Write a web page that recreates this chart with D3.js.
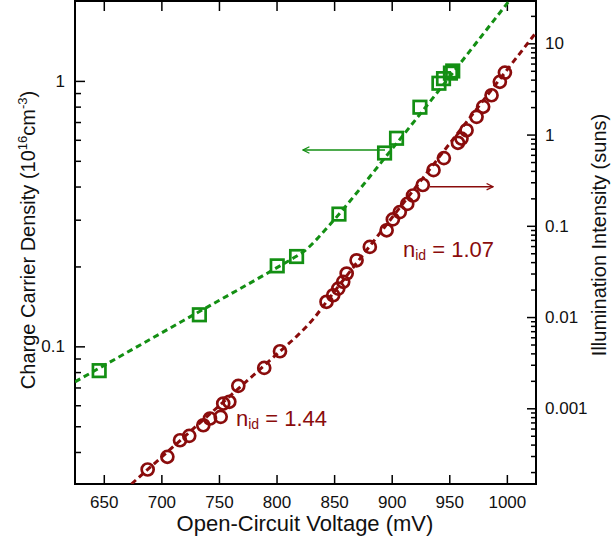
<!DOCTYPE html>
<html>
<head>
<meta charset="utf-8">
<script src="https://cdn.jsdelivr.net/npm/d3@7"></script>
<style>
  body { margin: 0; background: #fff; }
  svg { display: block; font-family: "Liberation Sans", Arial, sans-serif; }
</style>
</head>
<body>
<svg id="chart"></svg>
<script>
// carrier density (left axis) - green squares
var greenVoc = [646, 733, 800.6, 817.4, 854.2, 893.8, 904.2, 924.5, 941, 945, 951, 953]
var greenDensity = [0.081, 0.1315, 0.201, 0.218, 0.315, 0.535, 0.608, 0.796, 0.98, 1.02, 1.07, 1.09]

// illumination intensity (right axis) - red circles
var redVoc = [688.1, 705.2, 716.2, 724.2, 736.4, 742.2, 751.5, 753.7, 759, 766.8, 789.3, 803,
              843.4, 849.2, 853.6, 857.9, 860.9, 869.5, 881, 895.6, 901, 907, 913.5, 918.5,
              927, 936.3, 945.3, 957.5, 960.6, 965, 973.7, 979.4, 986.7, 993.9, 998.3]
var redSuns = [2.133e-4, 2.938e-4, 4.467e-4, 4.989e-4, 6.516e-4, 7.727e-4, 8.054e-4, 1.127e-3,
               1.178e-3, 1.762e-3, 2.773e-3, 4.217e-3, 0.01469, 0.01734, 0.02051, 0.02432,
               0.02999, 0.04188, 0.05875, 0.08933, 0.1175, 0.1413, 0.1738, 0.2148, 0.2799,
               0.4074, 0.5521, 0.8128, 0.9036, 1.114, 1.563, 2.014, 2.698, 3.784, 4.775]

// dashed fit curves
var greenFitVoc = [625, 720, 800, 815, 825, 835, 845, 900, 1003]
var greenFitDensity = [0.0735, 0.1257, 0.1975, 0.2155, 0.230, 0.2535, 0.283, 0.552, 2.03]
var redFitVoc = [674, 740, 803, 818, 832, 843.4, 920, 1000, 1025]
var redFitSuns = [1.48e-4, 8.2e-4, 4.21e-3, 6.24e-3, 9.55e-3, 0.01469, 0.2564, 5.09, 12.97]

// ticks
var xTicks = [650, 700, 750, 800, 850, 900, 950, 1000]
var leftMajor = [0.1, 1]
var leftMinor = [0.04, 0.05, 0.06, 0.07, 0.08, 0.09, 0.2, 0.3, 0.4, 0.5, 0.6, 0.7, 0.8, 0.9]
var rightMajor = [0.001, 0.01, 0.1, 1, 10]
var rightLabels = ["0.001", "0.01", "0.1", "1", "10"]

var dimensions = {
    width: 611,
    height: 545,
    margin: { top: 1, bottom: 61, left: 75, right: 75 }
}
var innerBottom = dimensions.height - dimensions.margin.bottom
var innerRight = dimensions.width - dimensions.margin.right

var green = "#138f13"
var red = "#8a0c0c"

var svg = d3.select("#chart")
            .attr("width", dimensions.width)
            .attr("height", dimensions.height)

var x = d3.scaleLinear().domain([625, 1025.3]).range([dimensions.margin.left, innerRight])
var yLeft = d3.scaleLog().domain([0.0303, 2.0]).range([innerBottom, dimensions.margin.top])
var yRight = d3.scaleLog().domain([1.48e-4, 29.1]).range([innerBottom, dimensions.margin.top])

// minor ticks on the right: 2..9 of every decade inside the domain
var rightMinor = []
for (var e = -4; e <= 1; e++) {
    for (var m = 2; m <= 9; m++) {
        var v = m * Math.pow(10, e)
        if (v > 1.5e-4 && v < 29) rightMinor.push(v)
    }
}

svg.append("clipPath").attr("id", "plotClip")
   .append("rect")
   .attr("x", dimensions.margin.left)
   .attr("y", dimensions.margin.top)
   .attr("width", innerRight - dimensions.margin.left)
   .attr("height", innerBottom - dimensions.margin.top)

// axes
function styleAxis(g) {
    g.select(".domain").remove()
    g.selectAll(".tick line").attr("stroke", "black").attr("stroke-width", 1.5)
    g.selectAll(".tick text").attr("fill", "#111").style("font-size", "17px")
       .style("font-family", "'Liberation Sans', Arial, sans-serif")
}

svg.append("g")
   .attr("transform", `translate(0,${innerBottom})`)
   .call(d3.axisBottom(x).tickValues(xTicks).tickSize(-9).tickPadding(12).tickFormat(d3.format("d")))
   .call(styleAxis)

svg.append("g")
   .attr("transform", `translate(0,${dimensions.margin.top})`)
   .call(d3.axisTop(x).tickValues(xTicks).tickSize(-10).tickFormat(""))
   .call(styleAxis)

svg.append("g")
   .attr("transform", `translate(${dimensions.margin.left},0)`)
   .call(d3.axisLeft(yLeft).tickValues(leftMajor).tickSize(-10).tickPadding(10).tickFormat(d => d === 1 ? "1" : "0.1"))
   .call(styleAxis)

svg.append("g")
   .attr("transform", `translate(${dimensions.margin.left},0)`)
   .call(d3.axisLeft(yLeft).tickValues(leftMinor).tickSize(-6).tickFormat(""))
   .call(styleAxis)

svg.append("g")
   .attr("transform", `translate(${innerRight},0)`)
   .call(d3.axisRight(yRight).tickValues(rightMajor).tickSize(-9).tickPadding(9)
           .tickFormat((d, i) => rightLabels[i]))
   .call(styleAxis)

svg.append("g")
   .attr("transform", `translate(${innerRight},0)`)
   .call(d3.axisRight(yRight).tickValues(rightMinor).tickSize(-5).tickFormat(""))
   .call(styleAxis)

// frame
svg.append("rect")
   .attr("x", dimensions.margin.left)
   .attr("y", dimensions.margin.top)
   .attr("width", innerRight - dimensions.margin.left)
   .attr("height", innerBottom - dimensions.margin.top)
   .attr("fill", "none")
   .attr("stroke", "black")
   .attr("stroke-width", 2)

// fit lines
var greenLine = d3.line()
                  .x((d, i) => x(greenFitVoc[i]))
                  .y(d => yLeft(d))
                  .curve(d3.curveMonotoneX)
var redLine = d3.line()
                .x((d, i) => x(redFitVoc[i]))
                .y(d => yRight(d))
                .curve(d3.curveMonotoneX)

var fits = svg.append("g").attr("clip-path", "url(#plotClip)")
fits.append("path")
    .attr("d", greenLine(greenFitDensity))
    .attr("fill", "none")
    .attr("stroke", green)
    .attr("stroke-width", 3)
    .attr("stroke-dasharray", "6,4")
fits.append("path")
    .attr("d", redLine(redFitSuns))
    .attr("fill", "none")
    .attr("stroke", red)
    .attr("stroke-width", 3)
    .attr("stroke-dasharray", "6,4")

// markers
var squareSize = 12.5
svg.append("g")
   .selectAll(".squares")
   .data(greenDensity)
   .enter()
   .append("rect")
   .attr("class", "squares")
   .attr("x", (d, i) => x(greenVoc[i]) - squareSize / 2)
   .attr("y", d => yLeft(d) - squareSize / 2)
   .attr("width", squareSize)
   .attr("height", squareSize)
   .attr("fill", "none")
   .attr("stroke", green)
   .attr("stroke-width", 2.7)

svg.append("g")
   .selectAll(".circles")
   .data(redSuns)
   .enter()
   .append("circle")
   .attr("class", "circles")
   .attr("cx", (d, i) => x(redVoc[i]))
   .attr("cy", d => yRight(d))
   .attr("r", 6)
   .attr("fill", "none")
   .attr("stroke", red)
   .attr("stroke-width", 2.7)

// arrows
var defs = svg.append("defs")
function arrowHead(id, color) {
    defs.append("marker")
        .attr("id", id)
        .attr("viewBox", "0 0 10 10")
        .attr("refX", 9)
        .attr("refY", 5)
        .attr("markerWidth", 8)
        .attr("markerHeight", 8)
        .attr("markerUnits", "userSpaceOnUse")
        .attr("orient", "auto")
        .append("path")
        .attr("d", "M1,1 L9,5 L1,9")
        .attr("fill", "none")
        .attr("stroke", color)
        .attr("stroke-width", 1.6)
}
arrowHead("arrowGreen", green)
arrowHead("arrowRed", red)

svg.append("line")
   .attr("x1", 385).attr("y1", 150)
   .attr("x2", 303).attr("y2", 150)
   .attr("stroke", green)
   .attr("stroke-width", 1.5)
   .attr("marker-end", "url(#arrowGreen)")

svg.append("line")
   .attr("x1", 430).attr("y1", 186.7)
   .attr("x2", 493).attr("y2", 186.7)
   .attr("stroke", red)
   .attr("stroke-width", 1.5)
   .attr("marker-end", "url(#arrowRed)")

// ideality annotations
function ideality(xPos, yPos, value) {
    var t = svg.append("text")
               .attr("x", xPos)
               .attr("y", yPos)
               .attr("fill", red)
               .style("font-size", "22px")
    t.append("tspan").text("n")
    t.append("tspan").attr("dy", 3).style("font-size", "14px").text("id")
    t.append("tspan").attr("dy", -3).text(" = " + value)
}
ideality(236, 426, "1.44")
ideality(403, 257, "1.07")

// axis titles
svg.append("text")
   .attr("x", 305)
   .attr("y", 531)
   .attr("text-anchor", "middle")
   .attr("fill", "#111")
   .style("font-size", "22px")
   .text("Open-Circuit Voltage (mV)")

var leftTitle = svg.append("text")
                   .attr("transform", "translate(35,240) rotate(-90)")
                   .attr("text-anchor", "middle")
                   .attr("fill", "#111")
                   .style("font-size", "20px")
leftTitle.append("tspan").text("Charge Carrier Density (10")
leftTitle.append("tspan").attr("dy", -8).style("font-size", "13px").text("16")
leftTitle.append("tspan").attr("dy", 8).text("cm")
leftTitle.append("tspan").attr("dy", -8).style("font-size", "13px").text("-3")
leftTitle.append("tspan").attr("dy", 8).text(")")

svg.append("text")
   .attr("transform", "translate(606,235) rotate(-90)")
   .attr("text-anchor", "middle")
   .attr("fill", "#111")
   .style("font-size", "20px")
   .text("Illumination Intensity (suns)")
</script>
</body>
</html>
